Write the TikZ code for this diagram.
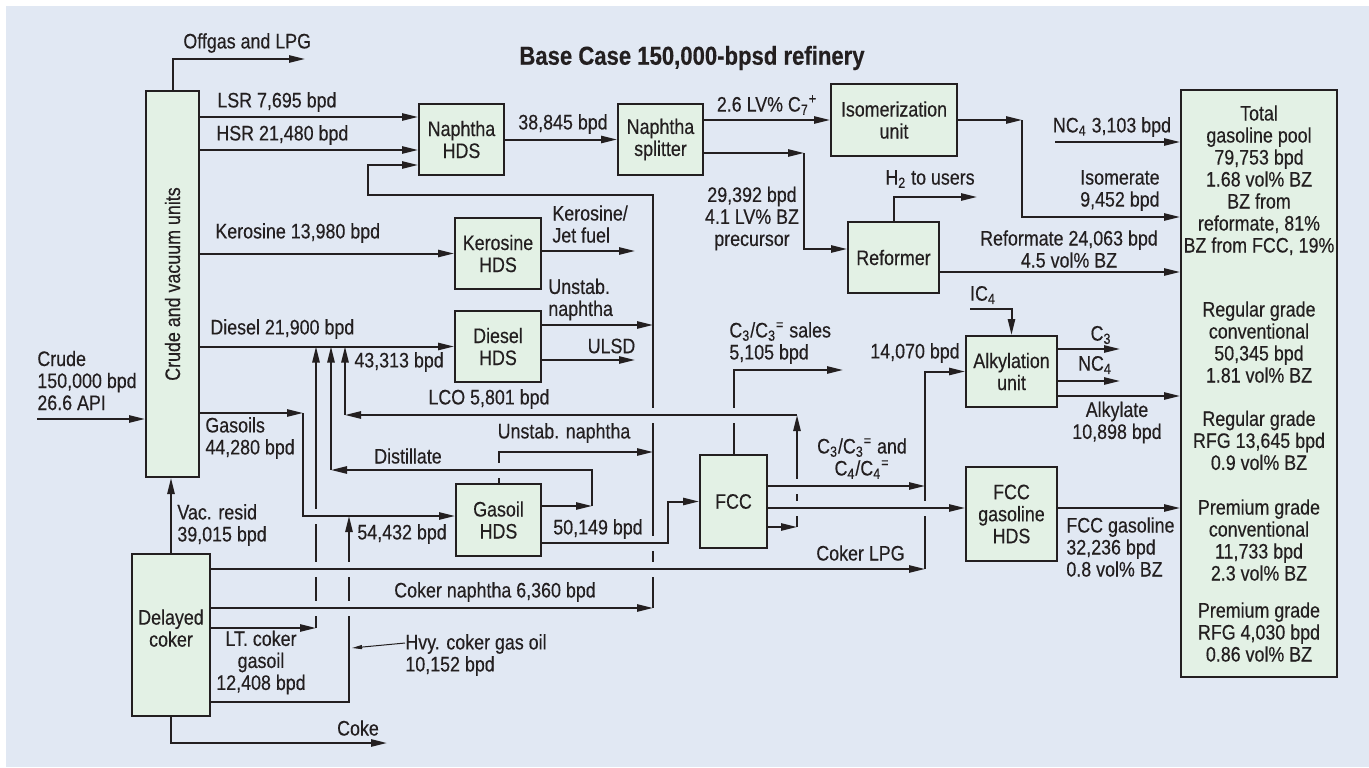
\documentclass[tikz,border=0pt]{standalone}
\usepackage{graphicx}
\usepackage{fontspec}
\setmainfont{Liberation Sans}[FakeStretch=0.85,FakeBold=0.35]
\usetikzlibrary{arrows.meta,positioning}
\definecolor{ink}{HTML}{231F20}
\definecolor{paper}{HTML}{E1E8F3}
\definecolor{unitfill}{HTML}{E3F1E5}
\newcommand\lblfont{\fontsize{10.5pt}{11pt}\selectfont}
\newcommand\titlefont{\fontsize{13pt}{15pt}\selectfont\bfseries}
\tikzset{
  unit/.style={draw=ink,line width=1pt,fill=unitfill,align=center,font=\lblfont,text=ink,inner sep=1pt},
  flow/.style={-{Triangle[length=8pt,width=3.6pt]},line width=1pt,draw=ink},
  hop/.style={preaction={draw=paper,line width=7.5pt,-,shorten <=4.5pt,shorten >=4.5pt}},
  lbl/.style={font=\lblfont,text=ink,inner sep=0pt,align=left},
  pointer/.style={-{Triangle[length=5pt,width=2pt]},line width=0.5pt,draw=ink}
}
\begin{document}
\begin{tikzpicture}[x=0.5pt,y=-0.5pt]
  \useasboundingbox (0,0) rectangle (1369,767);
  \fill[paper] (6,6) rectangle (1369,767);

  % process units
  \node[unit,minimum width=26.5pt,minimum height=193pt] (crude) at (172.5,284) {\rotatebox{90}{Crude and vacuum units}};
  \node[unit,minimum width=42.5pt,minimum height=35.5pt] (nhds) at (461.5,139.5) {Naphtha\\HDS};
  \node[unit,minimum width=42.5pt,minimum height=35.5pt] (split) at (660.5,139.5) {Naphtha\\splitter};
  \node[unit,minimum width=63pt,minimum height=36pt] (isom) at (894,120) {Isomerization\\unit};
  \node[unit,minimum width=45.5pt,minimum height=35.5pt] (reform) at (893.5,257.5) {Reformer};
  \node[unit,minimum width=43pt,minimum height=35.5pt] (khds) at (498,253.5) {Kerosine\\HDS};
  \node[unit,minimum width=43pt,minimum height=35.5pt] (dhds) at (498,346.5) {Diesel\\HDS};
  \node[unit,minimum width=42.5pt,minimum height=36pt] (ghds) at (498.5,520) {Gasoil\\HDS};
  \node[unit,minimum width=33.5pt,minimum height=46.5pt] (fcc) at (733.5,501.5) {FCC};
  \node[unit,minimum width=45.5pt,minimum height=35.5pt] (alky) at (1011.5,371.5) {Alkylation\\unit};
  \node[unit,minimum width=45.5pt,minimum height=47pt] (fghds) at (1011.5,514) {FCC\\gasoline\\HDS};
  \node[unit,minimum width=39pt,minimum height=81pt] (coker) at (171,635) {Delayed\\coker\\[-4pt]\mbox{}};
  \node[unit,minimum width=78pt,minimum height=293.5pt] (pool) at (1259,383.5) {Total\\gasoline pool\\79,753 bpd\\1.68 vol\% BZ\\BZ from\\reformate, 81\%\\BZ from FCC, 19\%\\[21pt]Regular grade\\conventional\\50,345 bpd\\1.81 vol\% BZ\\[10.7pt]Regular grade\\RFG 13,645 bpd\\0.9 vol\% BZ\\[11.3pt]Premium grade\\conventional\\11,733 bpd\\2.3 vol\% BZ\\[7.5pt]Premium grade\\RFG 4,030 bpd\\0.86 vol\% BZ};

  % bends and free ends
  \coordinate (crudein) at (37,419);
  \coordinate (offgas) at (305,59);
  \coordinate (gasj) at (303,413);
  \coordinate (ltj) at (316,628);
  \coordinate (hvyj) at (349,702);
  \coordinate (rcy) at (368,195);
  \coordinate (colbot) at (653,608);
  \coordinate (kjout) at (635,251);
  \coordinate (ulsdout) at (635,360);
  \coordinate (distj) at (592,506);
  \coordinate (distk) at (331,470);
  \coordinate (lcoj) at (797,527);
  \coordinate (lcok) at (797,415);
  \coordinate (lcom) at (345,415);
  \coordinate (fccj) at (668,543);
  \coordinate (spj) at (804,153);
  \coordinate (isoj) at (1022,120);
  \coordinate (h2out) at (977,197);
  \coordinate (nc4in) at (1055,142);
  \coordinate (ic4in) at (970,309);
  \coordinate (c3out) at (1120,349);
  \coordinate (nc4out) at (1120,381);
  \coordinate (salesout) at (843,370);
  \coordinate (lpgj) at (925,569);
  \coordinate (cokeout) at (387,743);
  \coordinate (hvytip) at (352,648);

  % crude and vacuum units
  \draw[flow] (crudein) -- (crudein -| crude.west);
  \draw[flow] (crude.north) |- (offgas);
  \draw[flow] (crude.east |- 0,117) -- (nhds.west |- 0,117);
  \draw[flow] (crude.east |- 0,150) -- (nhds.west |- 0,150);
  \draw[flow] (crude.east |- khds.west) -- (khds.west);
  \draw[flow] (crude.east |- dhds.west) -- (dhds.west);
  \draw[flow] (crude.east |- gasj) -- (gasj);
  \draw[flow] (coker.north) -- (coker.north |- crude.south);
  \draw[flow] (coker.south) |- (cokeout);
  \draw[flow] (coker.east |- ltj) -- (ltj);

  % naphtha train
  \draw[flow] (nhds.east) -- (split.west);
  \draw[flow] (split.east |- isom.west) -- (isom.west);
  \draw[flow] (split.east |- spj) -- (spj);
  \draw[flow] (spj) |- (reform.west |- 0,249);
  \draw[flow] (reform.north) |- (h2out);
  \draw[flow] (isom.east) -- (isoj);
  \draw[flow] (isoj) |- (pool.west |- 0,217);
  \draw[flow] (nc4in) -- (nc4in -| pool.west);
  \draw[flow] (reform.east |- 0,272) -- (pool.west |- 0,272);
  \draw[flow] (khds.east |- kjout) -- (kjout);
  \draw[flow] (dhds.east |- 0,325) -- (colbot |- 0,325);
  \draw[flow] (dhds.east |- ulsdout) -- (ulsdout);

  % lines that get crossed
  \draw[flow] (colbot) -- (colbot |- rcy) -- (rcy) |- (nhds.west |- 0,165);
  \draw[flow] (ghds.north) |- (colbot |- 0,452);
  \draw[flow] (ltj) -- (ltj |- dhds.west);
  \draw[flow] (fcc.north) |- (salesout);
  \draw[flow] (lcoj) -- (lcok);
  \draw[flow] (lpgj) |- (alky.west);

  % lines that cross over
  \draw[flow,hop] (lcok) -- (lcom);
  \draw[flow] (lcom) -- (lcom |- dhds.west);
  \draw[flow] (ghds.east |- distj) -- (distj);
  \draw[flow,hop] (distj) |- (distk);
  \draw[flow] (distk) -- (distk |- dhds.west);
  \draw[flow,hop] (ghds.east |- fccj) -- (fccj) |- (fcc.west);
  \draw[flow,hop] (gasj) |- (ghds.west |- 0,516);
  \draw[flow] (coker.east |- hvyj) -- (hvyj) -- (hvyj |- 0,516);
  \draw[flow,hop] (coker.east |- lpgj) -- (lpgj);
  \draw[flow,hop] (coker.east |- colbot) -- (colbot);
  \draw[flow] (fcc.east |- lcoj) -- (lcoj);
  \draw[flow,hop] (fcc.east |- 0,486) -- (lpgj |- 0,486);
  \draw[flow,hop] (fcc.east |- 0,508) -- (fghds.west |- 0,508);
  \draw[flow] (fghds.east |- 0,508) -- (pool.west |- 0,508);

  % alkylation
  \draw[flow] (ic4in) -| (alky.north);
  \draw[flow] (alky.east |- c3out) -- (c3out);
  \draw[flow] (alky.east |- nc4out) -- (nc4out);
  \draw[flow] (alky.east |- 0,396) -- (pool.west |- 0,396);

  % labels
  \node[font=\titlefont,text=ink] (title) at (692,58) {Base Case 150,000-bpsd refinery};
  \node[lbl,anchor=west] (offgasl) at (183,43) {Offgas and LPG};
  \node[lbl,anchor=west] (lsrl) at (217,102) {LSR 7,695 bpd};
  \node[lbl,anchor=west] (hsrl) at (216,135) {HSR 21,480 bpd};
  \node[lbl,anchor=west] (kerol) at (215,233) {Kerosine 13,980 bpd};
  \node[lbl,anchor=west] (diesl) at (210,329) {Diesel 21,900 bpd};
  \node[lbl,anchor=west] (crudel) at (37,380.5) {Crude\\150,000 bpd\\26.6 API};
  \node[lbl,anchor=west] (gasl) at (205,438) {Gasoils\\44,280 bpd};
  \node[lbl,anchor=west] (vacl) at (177,525) {Vac. resid\\39,015 bpd};
  \node[lbl,align=center] (ltl) at (261,662.5) {LT. coker\\gasoil\\12,408 bpd};
  \node[lbl,anchor=west] (hvyl) at (405,655) {Hvy. coker gas oil\\10,152 bpd};
  \node[lbl] (cokel) at (358,728) {Coke};
  \node[lbl,anchor=west] (f43l) at (354,362) {43,313 bpd};
  \node[lbl] (lcol) at (489,399) {LCO 5,801 bpd};
  \node[lbl] (distl) at (408,456) {Distillate};
  \node[lbl] (gunl) at (564,433) {Unstab. naphtha};
  \node[lbl,anchor=west] (f54l) at (357,534) {54,432 bpd};
  \node[lbl] (f50l) at (598,529) {50,149 bpd};
  \node[lbl] (cnl) at (495,592) {Coker naphtha 6,360 bpd};
  \node[lbl,anchor=east] (clpgl) at (905,553) {Coker LPG};
  \node[lbl] (n38l) at (563,124) {38,845 bpd};
  \node[lbl,anchor=west] (kjl) at (552,224) {Kerosine/\\Jet fuel};
  \node[lbl,anchor=west] (dunl) at (548,299.5) {Unstab.\\naphtha};
  \node[lbl] (ulsdl) at (611.5,346) {ULSD};
  \node[lbl] (c7l) at (767,105) {2.6 LV\% C\textsubscript{7}\textsuperscript{+}};
  \node[lbl,align=center] (bzl) at (752,218.5) {29,392 bpd\\4.1 LV\% BZ\\precursor};
  \node[lbl] (h2l) at (930,179) {H\textsubscript{2} to users};
  \node[lbl] (nc4l) at (1112,127) {NC\textsubscript{4} 3,103 bpd};
  \node[lbl,align=right,anchor=east] (isol) at (1160,190.5) {Isomerate\\9,452 bpd};
  \node[lbl,align=center] (refl) at (1069,249) {Reformate 24,063 bpd\\4.5 vol\% BZ};
  \node[lbl,anchor=west] (c3sl) at (729,343) {C\textsubscript{3}/C\textsubscript{3}\textsuperscript{=} sales\\5,105 bpd};
  \node[lbl,align=center] (c34l) at (862,458.5) {C\textsubscript{3}/C\textsubscript{3}\textsuperscript{=} and\\C\textsubscript{4}/C\textsubscript{4}\textsuperscript{=}};
  \node[lbl] (f14l) at (915,353) {14,070 bpd};
  \node[lbl] (ic4l) at (983,295) {IC\textsubscript{4}};
  \node[lbl] (c3l) at (1101,335) {C\textsubscript{3}};
  \node[lbl] (nc4al) at (1095,365) {NC\textsubscript{4}};
  \node[lbl,align=center] (alkl) at (1117,422.5) {Alkylate\\10,898 bpd};
  \node[lbl,anchor=west] (fgl) at (1066,547) {FCC gasoline\\32,236 bpd\\0.8 vol\% BZ};
  \draw[pointer] (hvyl.west |- 0,643) -- (hvytip);
\end{tikzpicture}
\end{document}
